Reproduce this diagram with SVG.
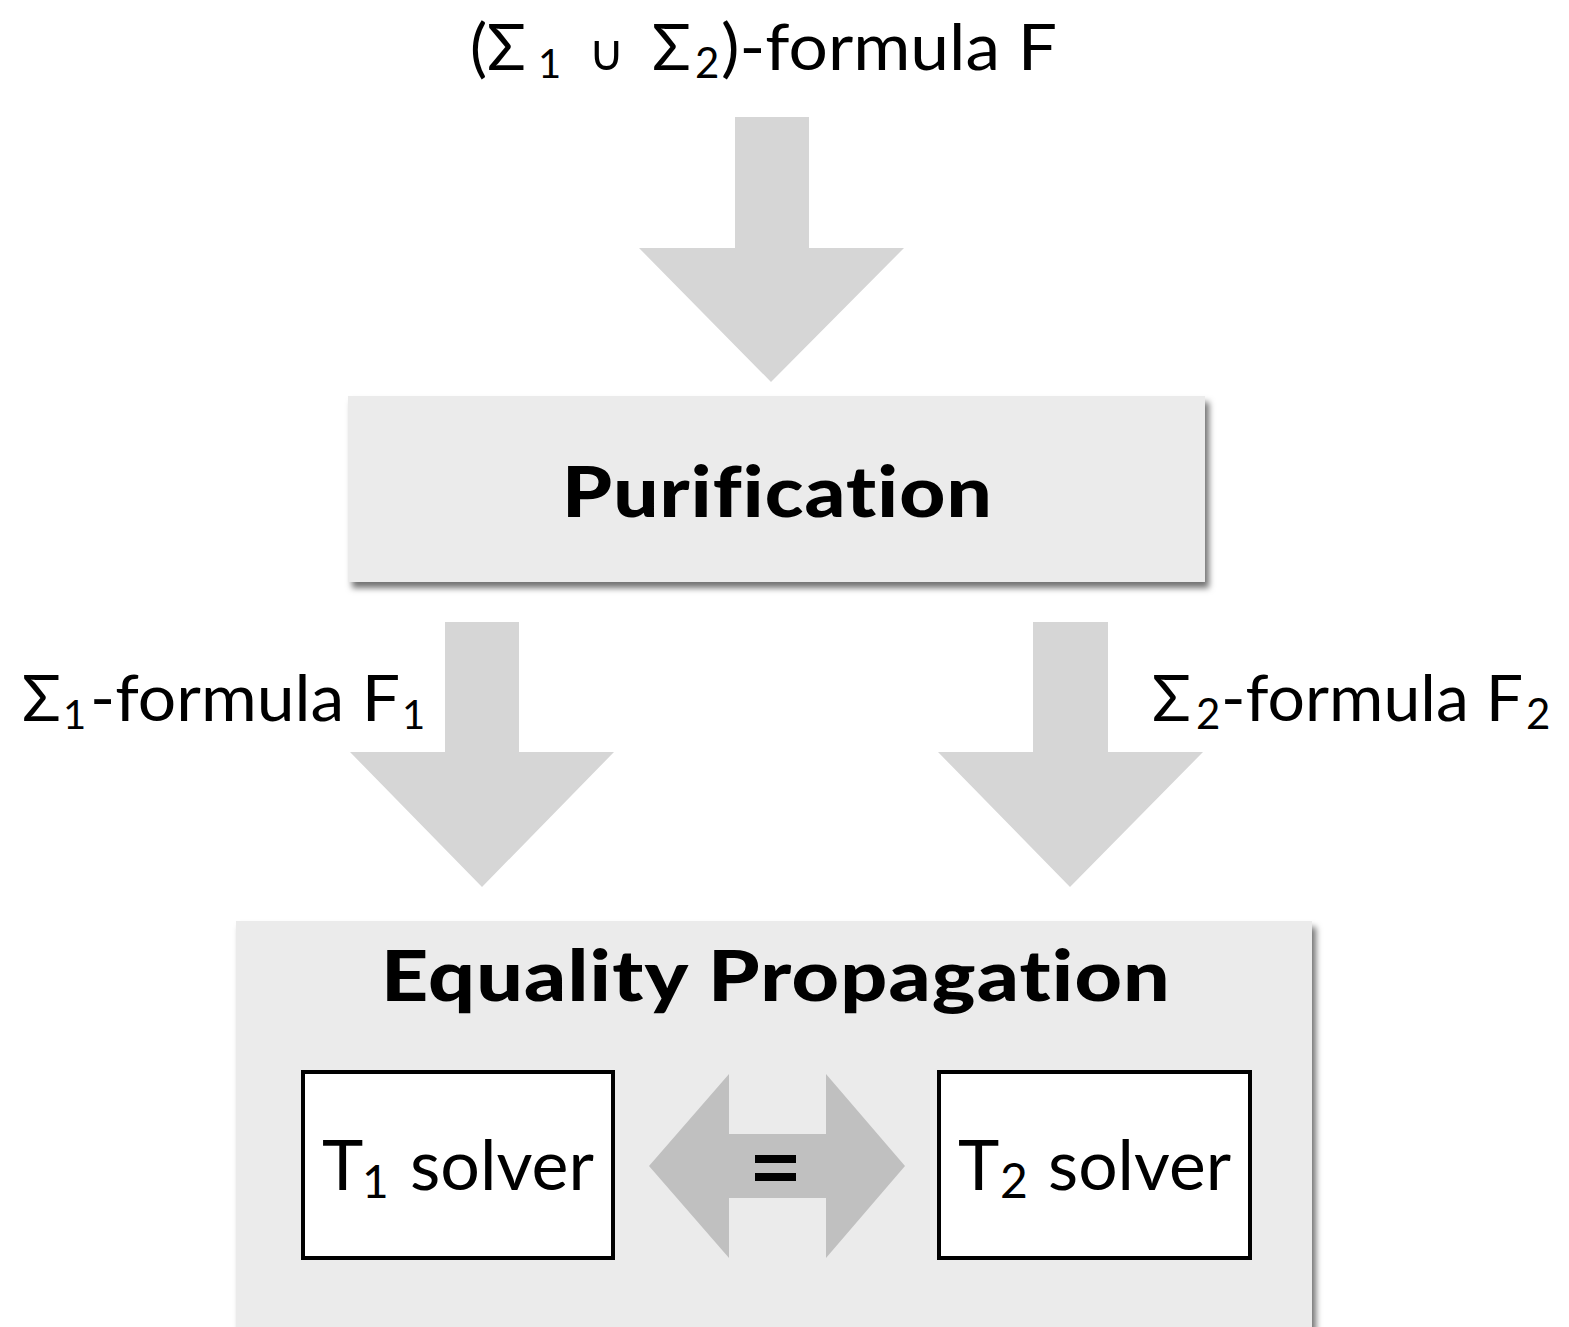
<svg xmlns="http://www.w3.org/2000/svg" width="1569" height="1327" viewBox="0 0 1569 1327">
<defs>
<style>
.t{font-family:Lato,"Open Sans","DejaVu Sans",sans-serif;fill:#000}
.b{font-family:Lato,"Liberation Sans",sans-serif;font-weight:900;fill:#000}
.nl{font-variant-ligatures:no-common-ligatures no-discretionary-ligatures no-historical-ligatures no-contextual;font-feature-settings:"liga" off,"clig" off,"dlig" off,"calt" off,"rlig" off}
.arrow{fill:#d6d6d6}
.box{fill:#ebebeb}
.solver{fill:#fff;stroke:#000;stroke-width:4}
</style>
<filter id="sh" x="-5%" y="-10%" width="115%" height="130%">
<feDropShadow dx="4" dy="6" stdDeviation="3" flood-color="#000" flood-opacity="0.55"/>
</filter>
</defs>

<g id="input-label">
<text class="t nl" font-size="64" y="70"><tspan x="470">(Σ</tspan><tspan x="538" font-size="40" dy="8">1</tspan><tspan x="588" dy="-8" font-size="50">∪</tspan><tspan x="652">Σ</tspan><tspan x="695" font-size="42" dy="8">2</tspan><tspan x="721" dy="-8" textLength="336" lengthAdjust="spacingAndGlyphs">)-formula F</tspan></text>
</g>

<g id="connectors">
<polygon id="arrow-top" class="arrow" points="735,117 809,117 809,248 904,248 771,382 639,248 735,248"/>
<polygon id="arrow-left" class="arrow" points="445,622 519,622 519,752 614,752 482,887 350,752 445,752"/>
<polygon id="arrow-right" class="arrow" points="1033,622 1108,622 1108,752 1203,752 1070,887 938,752 1033,752"/>
</g>

<g id="purification">
<rect class="box" x="348" y="396" width="857" height="186" filter="url(#sh)"/>
<text class="b nl" x="562" y="517" font-size="70" textLength="431" lengthAdjust="spacingAndGlyphs" style="font-variant-ligatures:none;letter-spacing:1px">Purification</text>
</g>

<g id="label-f1">
<text class="t nl" font-size="64" y="721"><tspan x="63" font-size="40" dy="8">1</tspan><tspan x="22" dy="-8">Σ</tspan><tspan x="90" textLength="310" lengthAdjust="spacingAndGlyphs">-formula F</tspan><tspan x="402" font-size="40" dy="8">1</tspan></text>
</g>

<g id="label-f2">
<text class="t nl" font-size="64" y="721"><tspan x="1152">Σ</tspan><tspan x="1196" font-size="42" dy="8">2</tspan><tspan x="1221" dy="-8" textLength="302" lengthAdjust="spacingAndGlyphs">-formula F</tspan><tspan x="1526" font-size="42" dy="8">2</tspan></text>
</g>

<g id="equality-propagation">
<rect class="box" x="236" y="921" width="1076" height="430" filter="url(#sh)"/>
<text class="b nl" x="381" y="1001" font-size="70" textLength="790" lengthAdjust="spacingAndGlyphs" style="font-variant-ligatures:none;letter-spacing:1px">Equality Propagation</text>
</g>

<g id="t1-solver">
<rect class="solver" x="303" y="1072" width="310" height="186"/>
<text class="t" font-size="70" y="1190"><tspan x="322">T</tspan><tspan x="362" font-size="46" dy="8">1</tspan><tspan x="410" dy="-8" textLength="184" lengthAdjust="spacingAndGlyphs">solver</tspan></text>
</g>

<g id="t2-solver">
<rect class="solver" x="939" y="1072" width="311" height="186"/>
<text class="t" font-size="70" y="1190"><tspan x="958">T</tspan><tspan x="1000" font-size="48" dy="8">2</tspan><tspan x="1048" dy="-8" textLength="183" lengthAdjust="spacingAndGlyphs">solver</tspan></text>
</g>

<g id="equality-exchange">
<polygon fill="#c0c0c0" points="649,1166 729,1074 729,1134 826,1134 826,1074 905,1166 826,1258 826,1198 729,1198 729,1258"/>
<rect x="755" y="1155" width="41" height="8" fill="#000"/>
<rect x="755" y="1173" width="41" height="8" fill="#000"/>
</g>
</svg>
